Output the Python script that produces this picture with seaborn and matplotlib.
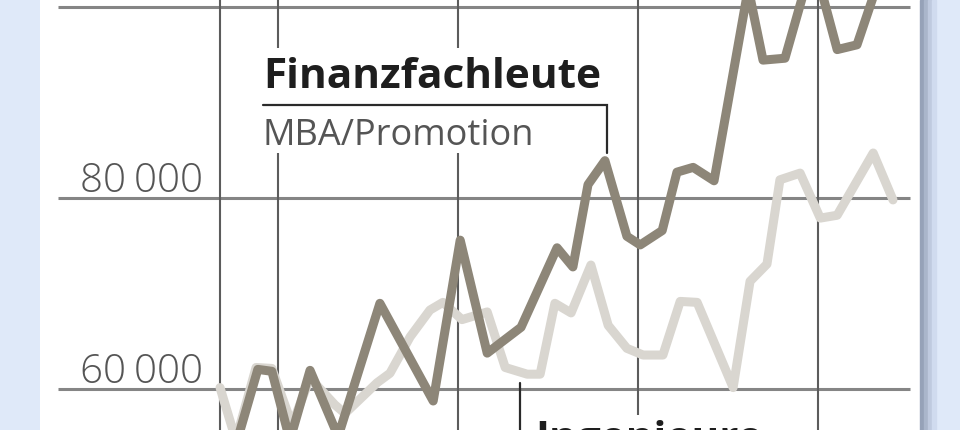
import pandas as pd
import numpy as np
import matplotlib.pyplot as plt
import seaborn as sns
from matplotlib.patches import Rectangle

# Durchschnittsgehälter (Euro) nach Jahr
finanz_jahr = [1988.83, 1989.44, 1989.83, 1990.33, 1990.89, 1991.67, 1992.83, 1994.31,
               1995.06, 1995.81, 1996.75, 1997.75, 1998.19, 1998.61, 1999.08, 1999.69,
               2000.06, 2000.67, 2001.08, 2001.53, 2002.11, 2003.06, 2003.47, 2004.08,
               2004.86, 2005.53, 2006.08, 2006.78]
finanz_wert = [54200, 62100, 61900, 54700, 62000, 55100, 69000, 58800,
               75600, 63800, 66500, 74800, 72800, 81400, 83900, 76000,
               75100, 76600, 82700, 83200, 81800, 101900, 94400, 94600,
               104900, 95500, 96000, 103800]

ing_jahr = [1988.39, 1988.83, 1989.39, 1989.83, 1990.39, 1990.89, 1991.58, 1991.86,
            1992.75, 1993.11, 1993.67, 1994.22, 1994.58, 1995.11, 1995.81, 1996.31,
            1996.92, 1997.28, 1997.69, 1998.14, 1998.69, 1999.17, 1999.69, 2000.14,
            2000.69, 2001.17, 2001.64, 2002.64, 2003.11, 2003.58, 2003.94, 2004.5,
            2005.06, 2005.53, 2006.53, 2007.08]
ing_wert = [60200, 54700, 62300, 62200, 56300, 61200, 58400, 57500,
            60700, 61700, 65500, 68300, 69100, 67300, 68100, 62300,
            61600, 61600, 69000, 68000, 73000, 66700, 64300, 63600,
            63600, 69200, 69100, 60200, 71300, 73100, 81900, 82600,
            77900, 78200, 84700, 79800]

y_ticks = [60000, 80000, 100000]
y_labels = ['60\u2009000', '80\u2009000', '100\u2009000']
x_grid = [1988.39, 1990, 1995, 2000, 2005]

df = pd.concat([
    pd.DataFrame({'Jahr': finanz_jahr, 'Gehalt': finanz_wert, 'Gruppe': 'Finanzfachleute'}),
    pd.DataFrame({'Jahr': ing_jahr, 'Gehalt': ing_wert, 'Gruppe': 'Ingenieure'}),
])

sns.set_style('white')
plt.rcParams['font.family'] = ['Open Sans', 'DejaVu Sans']

fig = plt.figure(figsize=(9.6, 4.3), dpi=100, facecolor='#dfe9f9')
ax = fig.add_axes([40 / 960, 0, 880 / 960, 1])
ax.set_facecolor('white')

# shadow at right edge of the panel
for i, c in enumerate(['#96a2b8', '#aab6cb', '#bfcadf', '#d0dbef']):
    fig.patches.append(Rectangle(((920 + i * 4) / 960, 0), 4 / 960, 1,
                                 transform=fig.transFigure, color=c, zorder=0))

ax.set_xlim(1983.39, 2007.83)
ax.set_ylim(55770, 100680)

ax.hlines(y_ticks, 1983.89, 2007.56, color='#858585', lw=2.2, zorder=1)
for xg in x_grid:
    ax.axvline(xg, color='#5c5c5c', lw=1.5, zorder=1)

for v, lab in zip(y_ticks, y_labels):
    ax.annotate(lab, (1987.92, v), xytext=(0, 4.5), textcoords='offset points',
                ha='right', va='baseline', fontsize=29, color='#555555',
                fontweight='light', zorder=4)

sns.lineplot(data=df, x='Jahr', y='Gehalt', hue='Gruppe', sort=False, estimator=None,
             palette={'Finanzfachleute': '#8d8678', 'Ingenieure': '#d9d6d0'},
             hue_order=['Ingenieure', 'Finanzfachleute'],
             lw=6.5, legend=False, ax=ax, zorder=3)

# label Finanzfachleute
ax.add_patch(Rectangle((1989.36, 84700), 1999.33 - 1989.36, 95666 - 84700,
                       facecolor='white', edgecolor='none', zorder=2))
ax.text(1989.58, 91490, 'Finanzfachleute', fontsize=30.5, fontweight='bold',
        color='#1e1e1e', va='baseline', ha='left', zorder=4)
ax.text(1989.58, 85540, 'MBA/Promotion', fontsize=26, color='#555555',
        va='baseline', ha='left', zorder=4)
ax.plot([1989.58, 1999.14, 1999.14], [89710, 89710, 84700], color='#2a2a2a',
        lw=1.6, solid_joinstyle='miter', zorder=4)

# label Ingenieure
ax.add_patch(Rectangle((1996.94, 54000), 2004.5 - 1996.94, 57340 - 54000,
                       facecolor='white', edgecolor='none', zorder=2))
ax.text(1997.14, 56810, 'Ingenieure', fontsize=30.5, fontweight='bold',
        color='#1e1e1e', va='top', ha='left', zorder=4)
ax.plot([1996.72, 1996.72], [60680, 54000], color='#2a2a2a', lw=1.6, zorder=4)

ax.set_xticks([])
ax.set_yticks([])
ax.set_xlabel('')
ax.set_ylabel('')
for s in ax.spines.values():
    s.set_visible(False)

fig.savefig('out.png', dpi=100, facecolor=fig.get_facecolor())
